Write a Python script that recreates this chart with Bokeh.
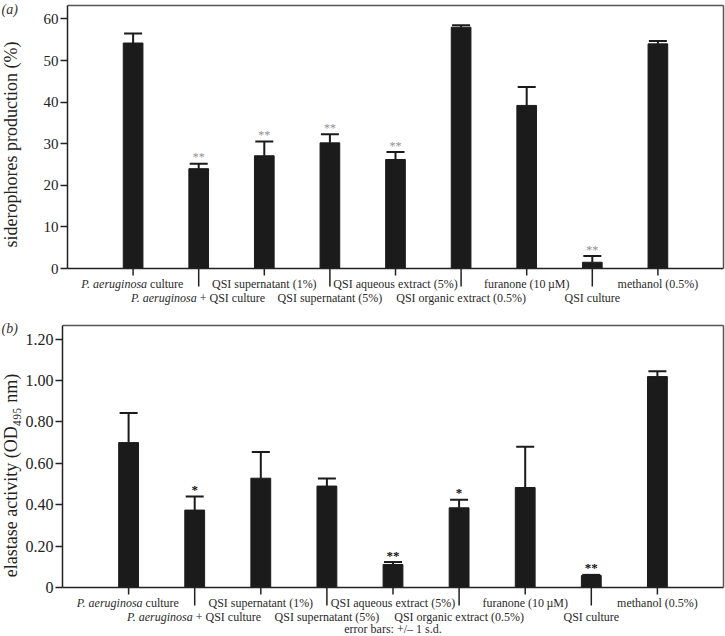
import math
from bokeh.plotting import figure
from bokeh.layouts import column
from bokeh.models import (Range1d, FixedTicker, Label, Whisker, TeeHead,
                          ColumnDataSource, LinearAxis, NumeralTickFormatter)
from bokeh.core.properties import value
from bokeh.embed import file_html
from bokeh.resources import INLINE

# ---------------- data ----------------
positions = [1, 2, 3, 4, 5, 6, 7, 8, 9]
labels_italic = ["P. aeruginosa", "P. aeruginosa", "", "", "", "", "", "", ""]
labels_plain = ["\u00a0culture", "\u00a0+\u00a0QSI culture",
                "QSI supernatant (1%)", "QSI supernatant (5%)",
                "QSI aqueous extract (5%)", "QSI organic extract (0.5%)",
                "furanone (10\u2009\u00b5M)", "QSI culture", "methanol (0.5%)"]

sid_mean = [54.2, 24.0, 27.1, 30.2, 26.2, 58.0, 39.2, 1.5, 54.0]
sid_sd = [2.3, 1.2, 3.4, 2.1, 1.8, 0.5, 4.4, 1.5, 0.7]
sid_sig = ["", "**", "**", "**", "**", "", "", "**", ""]
sid_ticks = [0, 10, 20, 30, 40, 50, 60]

ela_mean = [0.700, 0.374, 0.528, 0.490, 0.111, 0.385, 0.483, 0.058, 1.019]
ela_sd = [0.143, 0.066, 0.126, 0.037, 0.012, 0.039, 0.197, 0.003, 0.026]
ela_sig = ["", "*", "", "", "**", "*", "", "**", ""]
ela_ticks = [0, 0.2, 0.4, 0.6, 0.8, 1.0, 1.2]

SERIF = "Liberation Serif"
DARK = "#1b1b1b"
AXC = "#222222"
W = 725
CAT_SIZE = "12px"
# horizontal offsets (px) of the italic/plain junction for split labels
SPLIT_OFFSET = {0: 14, 1: -2}


def panel(mean, sd, sig, ticks, ylabel, tag, height, frame_left, zero_y,
          top_y, pxx, pxy, tick_size, label_size, label_y, star_size,
          star_color, star_style, star_lift, tag_y, tick_fmt=None,
          footnote=None):
    x_lo = -frame_left / pxx
    x_hi = (W - frame_left) / pxx
    y_hi = zero_y / pxy
    y_lo = -(height - zero_y) / pxy
    top_val = (zero_y - top_y) / pxy

    p = figure(width=W, height=height, x_range=Range1d(x_lo, x_hi),
               y_range=Range1d(y_lo, y_hi), output_backend="svg",
               toolbar_location=None, x_axis_location=None,
               min_border_left=0, min_border_right=0, min_border_top=0,
               min_border_bottom=0)
    p.xgrid.visible = False
    p.ygrid.visible = False
    p.outline_line_color = None

    ya = p.yaxis[0]
    ya.fixed_location = 0
    ya.bounds = (0, top_val)
    ya.ticker = FixedTicker(ticks=ticks)
    if tick_fmt is not None:
        ya.formatter = NumeralTickFormatter(format=tick_fmt)
        ya.major_label_overrides = {0: "0"}
    ya.major_tick_out = 7
    ya.major_tick_in = 0
    ya.minor_tick_line_color = None
    ya.axis_line_width = 1.5
    ya.axis_line_color = AXC
    ya.major_tick_line_width = 1.5
    ya.major_tick_line_color = AXC
    ya.major_label_text_font = SERIF
    ya.major_label_text_font_size = tick_size
    ya.major_label_text_color = AXC
    ya.major_label_standoff = 2

    # y-axis title (rotated)
    p.add_layout(Label(x=(10.0 - frame_left) / pxx,
                       y=(zero_y - label_y) / pxy, text=ylabel,
                       angle=math.pi / 2, text_font=SERIF,
                       text_font_size=label_size, text_color=AXC,
                       text_align="center", text_baseline="middle"))

    # bottom axis line, top and right borders
    bottom = LinearAxis(fixed_location=0, bounds=(0, 10),
                        ticker=FixedTicker(ticks=[]), axis_line_width=1.5,
                        axis_line_color=AXC)
    p.add_layout(bottom, "below")
    topb = LinearAxis(fixed_location=top_val, bounds=(0, 10),
                      ticker=FixedTicker(ticks=[]), axis_line_width=1.5,
                      axis_line_color="#555555")
    p.add_layout(topb, "above")
    rightb = LinearAxis(fixed_location=10, bounds=(0, top_val),
                        ticker=FixedTicker(ticks=[]), axis_line_width=1.5,
                        axis_line_color="#555555")
    p.add_layout(rightb, "right")

    # category ticks (short for first row, long for second row)
    tick_len = [-(7.0 if i % 2 == 0 else 18.0) / pxy
                for i in range(len(positions))]
    p.segment(x0=positions, y0=[0] * len(positions), x1=positions,
              y1=tick_len, line_width=1.5, line_color=AXC)

    upper = [m + s for m, s in zip(mean, sd)]
    star_y = [u + star_lift / pxy for u in upper]
    src = ColumnDataSource(dict(x=positions, mean=mean, upper=upper,
                                sig=sig, star_y=star_y))
    p.vbar(x="x", top="mean", width=0.3, source=src, fill_color=DARK,
           line_color=DARK, line_width=1)
    p.add_layout(Whisker(base="x", lower="mean", upper="upper", source=src,
                         lower_head=None,
                         upper_head=TeeHead(size=18, line_width=2,
                                            line_color=DARK),
                         line_width=2, line_color=DARK, level="overlay"))
    p.text(x="x", y="star_y", text="sig", source=src,
           text_font=value(SERIF), text_font_size=star_size,
           text_font_style=star_style, text_color=star_color,
           text_align="center", text_baseline="alphabetic")

    # category labels
    for i, x in enumerate(positions):
        yy = -(15.0 if i % 2 == 0 else 29.0) / pxy
        it = labels_italic[i]
        pl = labels_plain[i]
        common = dict(x=x, y=yy, text_font=SERIF, text_font_size=CAT_SIZE,
                      text_color="#2a2a2a", text_baseline="middle")
        if it:
            off = SPLIT_OFFSET.get(i, 0)
            p.add_layout(Label(text=it, text_align="right", x_offset=off,
                               text_font_style="italic", **common))
            p.add_layout(Label(text=pl, text_align="left", x_offset=off,
                               **common))
        else:
            p.add_layout(Label(text=pl, text_align="center", **common))

    # panel tag
    p.add_layout(Label(x=x_lo + 1.0 / pxx, y=(zero_y - tag_y) / pxy,
                       text=tag, text_font=SERIF, text_font_size="14px",
                       text_font_style="italic", text_color="#333333",
                       text_align="left", text_baseline="middle"))
    if footnote:
        p.add_layout(Label(x=5, y=-41.0 / pxy, text=footnote,
                           text_font=SERIF, text_font_size=CAT_SIZE,
                           text_color="#2a2a2a", text_align="center",
                           text_baseline="middle"))
    return p


pa = panel(sid_mean, sid_sd, sid_sig, sid_ticks,
           "siderophores production (%)", "(a)", 316, 67, 268, 5,
           65.6, 4.16, "15px", "18px", 144, "12px", "#909090", "normal",
           6.5, 9)
pb = panel(ela_mean, ela_sd, ela_sig, ela_ticks,
           "elastase activity (OD\u2084\u2089\u2085 nm)", "(b)", 320, 62, 271,
           9, 66.1, 207.0, "16px", "18px", 159, "13px", "#111111", "bold",
           7, 12, tick_fmt="0.00", footnote="error bars: +/\u2013 1 s.d.")

layout = column(pa, pb, spacing=0)
open("out.html", "w").write(file_html(layout, INLINE))
